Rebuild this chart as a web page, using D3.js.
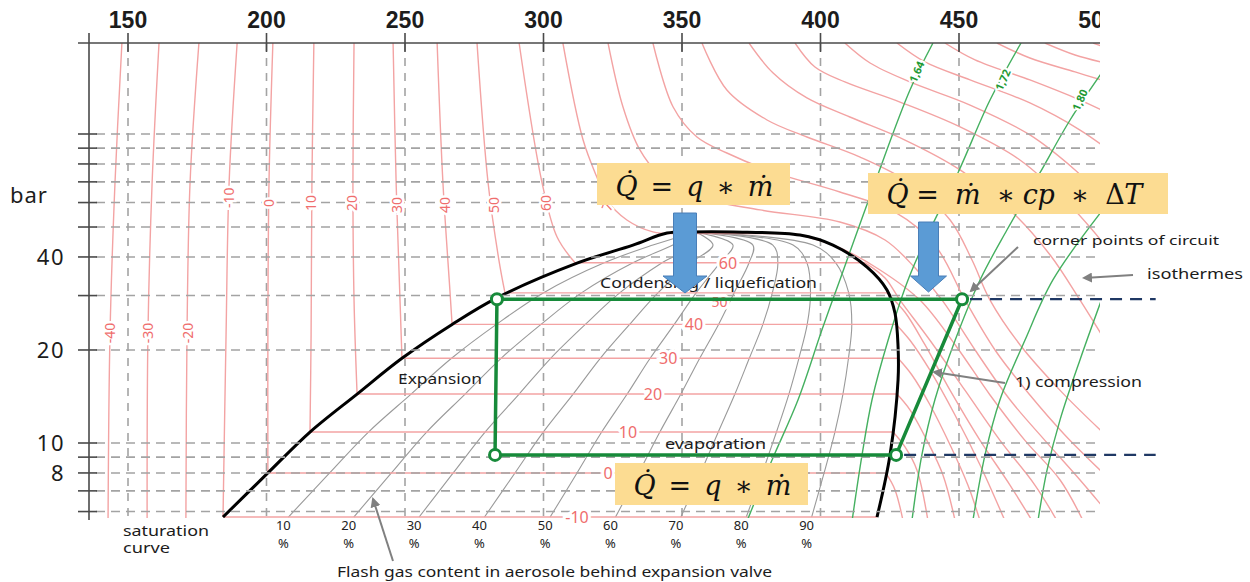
<!DOCTYPE html>
<html>
<head>
<meta charset="utf-8">
<script src="https://cdn.jsdelivr.net/npm/d3@7"></script>
<style>
  body { margin: 0; background: #fff; }
  svg { display: block; font-family: "Noto Sans", sans-serif; }
</style>
</head>
<body>
<script>
// ---- axes ----
var hTicks = [150, 200, 250, 300, 350, 400, 450, 500];
var hGrid = [150, 200, 250, 300, 350, 400, 450];
var pGrid = [6, 7, 8, 9, 10, 20, 30, 40, 50, 60, 70, 80, 90, 100];
var pTicks = [8, 10, 20, 40];

// ---- saturation curve [h kJ/kg, p bar] ----
var satLiquid = [[184.3,5.76],[200.5,8.0],[215.7,10.85],[232.7,14.4],[248.9,18.8],[267.0,24.2],[283.2,29.5],[312.1,38.2],[332.3,43.7],[344.6,47.8],[352.9,48.2]];
var satVapor = [[368.4,48.2],[392.6,47.1],[404.5,43.7],[416.8,37.1],[424.0,31.3],[426.9,26.3],[428.0,20.5],[428.0,16.0],[425.1,9.15],[420.4,5.76]];

// ---- isotherms, liquid part ----
var liquidTemps = [-40, -30, -20, -10, 0, 10, 20, 30, 40, 50, 60, 70];
var liquidLines = [
  [[147.8,197],[145.3,69.4],[143.5,22.4],[142.8,5.6]],
  [[161.2,197],[158.7,69.4],[157.2,22.4],[156.9,5.6]],
  [[175.6,197],[172.4,69.4],[171.3,22.4],[170.9,5.6]],
  [[189.4,197],[186.5,69.4],[185.4,22.4],[184.3,5.76]],
  [[202.3,197],[200.9,69.4],[200.5,22.4],[200.5,8.0]],
  [[217.1,197],[216.4,69.4],[216.1,22.4],[215.7,10.85]],
  [[231.6,197],[231.2,69.4],[231.6,29.0],[232.7,14.4]],
  [[245.7,197],[246.8,69.4],[248.2,29.0],[248.9,18.8]],
  [[261.6,197],[263.7,69.4],[266.2,31.3],[267.0,24.2]],
  [[276.0,197],[280.0,69.4],[283.9,39.1],[286.1,30.6]],
  [[291.2,197],[299.5,69.4],[304.9,46.4],[311.4,38.3]],
  [[307.0,197],[314.3,95.6],[319.7,71.0],[322.9,61.1],[330.1,52.7],[339.5,48.2],[345.7,47.6]]
];

// ---- isotherms, two-phase part ----
var boilTemps = [-10, 0, 10, 20, 30, 40, 50, 60, 70];
var boilP  = [5.76, 8.0, 10.85, 14.4, 18.8, 24.2, 30.6, 38.3, 47.6];
var boilHl = [184.3, 200.5, 215.7, 232.7, 248.9, 267.0, 286.1, 311.4, 345.7];
var boilHv = [420.4, 423.6, 426.2, 427.6, 428.0, 427.3, 424.0, 416.1, 390.8];

// ---- isotherms, vapour / supercritical part ----
var vaporTemps = [0, 10, 20, 30, 40, 50, 60, 70, 80, 90, 100, 110, 120, 130, 140, 150, 160, 170, 180];
var vaporLines = [
  [[423.6,8.0],[426.9,7.05],[429.8,5.6]],
  [[426.2,10.85],[430.5,9.71],[434.8,8.18],[438.8,5.6]],
  [[427.6,14.4],[432.3,12.8],[438.4,10.2],[444.2,7.88],[448.6,5.6]],
  [[428.0,18.8],[433.0,16.6],[439.5,13.3],[446.8,9.85],[453.2,7.31],[457.6,5.6]],
  [[427.3,24.2],[432.3,21.5],[439.5,17.2],[448.6,12.3],[457.6,8.49],[466.6,5.6]],
  [[424.0,30.6],[430.5,26.5],[437.7,20.8],[446.8,14.8],[457.6,10.2],[468.4,7.31],[476.4,5.6]],
  [[416.1,38.3],[423.3,34.2],[428.7,29.0],[439.5,21.5],[452.2,14.8],[464.8,10.2],[477.4,7.31],[485.4,5.6]],
  [[390.8,47.6],[407.0,42.8],[421.5,36.3],[435.9,29.0],[448.6,20.8],[461.2,14.3],[473.8,10.2],[486.5,7.59],[494.8,5.6]],
  [[323.3,197],[328.7,122.3],[334.8,88.8],[341.0,75.3],[356.5,62.5],[378.2,56.8],[407.0,51.9],[423.3,45.4],[434.1,36.9],[443.9,29.0],[455.8,20.0],[468.4,13.8],[481.0,10.2],[493.7,7.59],[502,6.2]],
  [[339.5,197],[346.8,122.3],[355.4,97.8],[366.2,86.8],[382.9,75.3],[407.0,64.9],[426.9,55.9],[441.3,43.7],[452.2,29.0],[463.0,20.0],[475.6,14.3],[488.3,10.6],[502,8.0]],
  [[357.2,197],[366.2,138.8],[380.7,111.0],[395.1,97.8],[414.3,84.2],[432.3,69.4],[446.8,52.7],[454.7,39.1],[461.2,29.0],[472.0,20.8],[486.5,14.8],[502,10.8]],
  [[374.2,197],[382.9,157.5],[395.1,130.8],[410.6,113.5],[430.5,95.6],[450.4,76.5],[468.4,56.8],[482.9,40.6],[493.7,29.0],[502,22.0]],
  [[390.8,197],[398.0,164.8],[408.8,147.4],[428.7,126.9],[450.4,105.4],[472.0,82.4],[488.3,61.1],[502,44.5]],
  [[408.8,197],[417.9,169.7],[432.3,147.4],[454.0,124.1],[475.6,99.3],[491.9,76.5],[502,62.5]],
  [[427.6,197],[437.7,171.1],[454.0,149.6],[475.6,126.0],[493.7,103.0],[502,91.5]],
  [[444.9,197],[455.8,173.6],[475.6,149.6],[493.7,128.8],[502,119]],
  [[463.7,197],[475.6,176.2],[491.9,158.8],[502,149]],
  [[481.0,197],[491.9,180.2],[502,170.5]],
  [[498.4,197],[502,192]]
];

// ---- vapour quality lines (flash gas content) ----
var qualityNames = [10, 20, 30, 40, 50, 60, 70, 80, 90];
var qualityP = [5.76, 8.0, 10.85, 14.4, 18.8, 24.2, 30.6, 38.3, 43.7, 48.2];
var qualityH = [
  [207.9, 222.8, 236.8, 252.2, 266.8, 283.0, 299.9, 321.9, 339.5, 355],
  [231.5, 245.1, 257.8, 271.7, 284.7, 299.1, 313.7, 332.3, 346.7, 355],
  [255.1, 267.4, 278.9, 291.2, 302.6, 315.1, 327.5, 342.8, 354.0, 355],
  [278.7, 289.7, 299.9, 310.7, 320.5, 331.1, 341.3, 353.2, 361.2, 355],
  [302.4, 312.1, 321.0, 330.2, 338.5, 347.2, 355.1, 363.7, 368.4, 355],
  [326.0, 334.4, 342.0, 349.6, 356.4, 363.2, 368.8, 374.2, 375.6, 355],
  [349.6, 356.7, 363.1, 369.1, 374.3, 379.2, 382.6, 384.6, 382.8, 355],
  [373.2, 379.0, 384.1, 388.6, 392.2, 395.2, 396.4, 395.1, 390.1, 355],
  [396.8, 401.3, 405.2, 408.1, 410.1, 411.3, 410.2, 405.5, 397.3, 355]
];

// ---- isentropes ----
var entropyNames = ["1,64", "1,72", "1,80", "1,88", "1,96"];
var entropyLines = [
  [[440.6,197],[432.3,138.8],[420.0,71.0],[407.0,33.7],[400.5,23.2],[391.9,13.8],[382.5,8.81],[373.5,5.6]],
  [[472.4,197],[461.2,128.8],[449.6,74.8],[439.5,48.9],[431.6,33.7],[424.4,21.5],[418.6,13.8],[415.0,9.15],[411.4,5.6]],
  [[502,160],[490.1,111.0],[479.2,74.8],[467.3,48.9],[457.6,33.7],[448.6,21.5],[441.3,13.8],[436.6,9.15],[433.0,5.6]],
  [[502,57],[483.9,33.7],[473.8,21.5],[464.8,13.8],[459.4,9.15],[455.0,5.6]],
  [[502,30],[493.7,18.6],[486.5,11.9],[481.8,8.18],[478.5,5.6]]
];

// ---- refrigeration circuit ----
var cycleH = [283.2, 282.5, 427.3, 451.1];
var cycleP = [29.2, 9.15, 9.15, 29.2];

// ---------------------------------------------------------------
var width = 1250, height = 582;
var plotLeft = 89, plotRight = 1100, plotTop = 43, plotBottom = 518;

var svg = d3.select("body").append("svg")
  .attr("width", width)
  .attr("height", height);

var x = d3.scaleLinear().domain([150, 500]).range([128, 1097.5]);
var y = d3.scaleLog().domain([10, 100]).range([443, 134]);

var defs = svg.append("defs");
defs.append("clipPath").attr("id", "plot").append("rect")
  .attr("x", plotLeft).attr("y", plotTop)
  .attr("width", plotRight - plotLeft).attr("height", plotBottom - plotTop);
defs.append("clipPath").attr("id", "topLabels").append("rect")
  .attr("x", 0).attr("y", 0).attr("width", plotRight).attr("height", 40);
defs.append("marker")
  .attr("id", "grey-head")
  .attr("viewBox", "0 0 10 10")
  .attr("refX", 8).attr("refY", 5)
  .attr("markerWidth", 5).attr("markerHeight", 5)
  .attr("orient", "auto")
  .append("path").attr("d", "M0,0L10,5L0,10z").attr("fill", "#808080");

var line = d3.line()
  .x(function(d) { return x(d[0]); })
  .y(function(d) { return y(d[1]); });
var smooth = d3.line()
  .x(function(d) { return x(d[0]); })
  .y(function(d) { return y(d[1]); })
  .curve(d3.curveCatmullRom.alpha(0.5));

var plot = svg.append("g").attr("clip-path", "url(#plot)");

// grid
plot.selectAll(".vgrid").data(hGrid).enter().append("line")
  .attr("x1", function(d) { return x(d); }).attr("x2", function(d) { return x(d); })
  .attr("y1", plotTop).attr("y2", plotBottom)
  .attr("stroke", "#a3a3a3").attr("stroke-width", 1.6).attr("stroke-dasharray", "8,7");

svg.selectAll(".hgrid").data(pGrid).enter().append("line")
  .attr("x1", 96).attr("x2", plotRight)
  .attr("y1", function(d) { return y(d); }).attr("y2", function(d) { return y(d); })
  .attr("stroke", "#a3a3a3").attr("stroke-width", 1.6).attr("stroke-dasharray", "9,6");

// quality lines
qualityH.forEach(function(hs) {
  var pts = hs.map(function(h, i) { return [h, qualityP[i]]; });
  plot.append("path").attr("d", smooth(pts))
    .attr("fill", "none").attr("stroke", "#9a9a9a").attr("stroke-width", 1.1);
});

// isotherms
var red = "#f3a3a3";
liquidLines.forEach(function(pts) {
  plot.append("path").attr("d", smooth(pts))
    .attr("fill", "none").attr("stroke", red).attr("stroke-width", 1.4);
});
boilTemps.forEach(function(t, i) {
  plot.append("path").attr("d", line([[boilHl[i], boilP[i]], [boilHv[i], boilP[i]]]))
    .attr("fill", "none").attr("stroke", red).attr("stroke-width", 1.4);
});
vaporLines.forEach(function(pts) {
  plot.append("path").attr("d", smooth(pts))
    .attr("fill", "none").attr("stroke", red).attr("stroke-width", 1.4);
});

// isentropes
entropyLines.forEach(function(pts) {
  plot.append("path").attr("d", smooth(pts))
    .attr("fill", "none").attr("stroke", "#45b060").attr("stroke-width", 1.4);
});

// saturation curve
plot.append("path").attr("d", smooth(satLiquid.concat(satVapor)))
  .attr("fill", "none").attr("stroke", "#000").attr("stroke-width", 3);

// isotherm labels
var redText = "#ef6d6d";
var liquidLabelAt = [[143.5,22.7],[157.2,22.7],[171.7,22.7],[186.5,62.2],[200.9,59.8],[216.1,59.8],[230.9,59.8],[247.1,58.9],[264.4,58.9],[282.1,58.9],[300.9,59.8],[323.6,59.8]];
liquidTemps.forEach(function(t, i) {
  var a = liquidLabelAt[i];
  svg.append("text")
    .attr("transform", "translate(" + x(a[0]) + "," + y(a[1]) + ") rotate(" + (t === 70 ? -68 : -90) + ")")
    .attr("text-anchor", "middle").attr("dy", "0.35em")
    .attr("font-size", 14).attr("fill", redText)
    .attr("stroke", "#fff").attr("stroke-width", 5).attr("paint-order", "stroke")
    .text(t);
});
var boilLabelH = [312.1, 323.3, 330.5, 339.5, 345.0, 354.3, 363.5, 366.6];
var boilLabelDy = [0, 0, 0, 0, 0, 0, 9, 0];
boilLabelH.forEach(function(h, i) {
  svg.append("text")
    .attr("x", x(h)).attr("y", y(boilP[i]) + boilLabelDy[i]).attr("dy", "0.36em")
    .attr("text-anchor", "middle").attr("font-size", i === 6 ? 14 : 16).attr("fill", redText)
    .attr("stroke", "#fff").attr("stroke-width", 6).attr("paint-order", "stroke")
    .text(boilTemps[i]);
});

// isentrope labels
var entropyLabelAt = [[434.8,158.8],[465.9,149.6],[493.7,128.8]];
entropyLabelAt.forEach(function(a, i) {
  svg.append("text")
    .attr("transform", "translate(" + x(a[0]) + "," + y(a[1]) + ") rotate(-66)")
    .attr("text-anchor", "middle").attr("dy", "0.35em")
    .attr("font-size", 11).attr("font-weight", "bold").attr("fill", "#1f9a35")
    .attr("stroke", "#fff").attr("stroke-width", 4).attr("paint-order", "stroke")
    .text(entropyNames[i]);
});

// axes
svg.append("line").attr("x1", 78).attr("x2", plotRight).attr("y1", plotTop).attr("y2", plotTop)
  .attr("stroke", "#4a4a4a").attr("stroke-width", 1.6);
svg.append("line").attr("x1", plotLeft).attr("x2", plotLeft).attr("y1", 33).attr("y2", 520)
  .attr("stroke", "#4a4a4a").attr("stroke-width", 1.6);
svg.selectAll(".htick").data(hTicks.slice(0, 7)).enter().append("line")
  .attr("x1", function(d) { return x(d); }).attr("x2", function(d) { return x(d); })
  .attr("y1", 33).attr("y2", 52)
  .attr("stroke", "#4a4a4a").attr("stroke-width", 1.6);
svg.selectAll(".ptick").data(pGrid).enter().append("line")
  .attr("x1", 78).attr("x2", 97)
  .attr("y1", function(d) { return y(d); }).attr("y2", function(d) { return y(d); })
  .attr("stroke", "#4a4a4a").attr("stroke-width", 1.6);

svg.append("g").attr("clip-path", "url(#topLabels)")
  .selectAll("text").data(hTicks).enter().append("text")
  .attr("x", function(d) { return x(d); }).attr("y", 28)
  .attr("text-anchor", "middle")
  .attr("font-family", "Liberation Sans, Arial, sans-serif")
  .attr("font-size", 23).attr("font-weight", "bold").attr("fill", "#1c1c1c")
  .text(function(d) { return d; });

svg.selectAll(".plabel").data(pTicks).enter().append("text")
  .attr("x", 65).attr("y", function(d) { return y(d) + 8; })
  .attr("text-anchor", "end").attr("font-size", 22).attr("fill", "#1c1c1c")
  .attr("letter-spacing", 1.5)
  .text(function(d) { return d; });
svg.append("text").attr("x", 10).attr("y", 203)
  .attr("font-size", 22).attr("fill", "#1c1c1c").attr("letter-spacing", 1)
  .text("bar");

// quality labels: number with the percent sign below
qualityNames.forEach(function(q, i) {
  var lx = x(qualityH[i][0]) - 5;
  svg.append("text").attr("x", lx).attr("y", 530)
    .attr("text-anchor", "middle").attr("font-size", 13).attr("fill", "#222").text(q);
  svg.append("text").attr("x", lx).attr("y", 548)
    .attr("text-anchor", "middle").attr("font-size", 13).attr("fill", "#222").text("%");
});

// refrigeration circuit
var cycle = cycleH.map(function(h, i) { return [h, cycleP[i]]; });
svg.append("path").attr("d", line(cycle) + "Z")
  .attr("fill", "none").attr("stroke", "#178a3a").attr("stroke-width", 3.5)
  .attr("stroke-linejoin", "round");
[cycle[3], cycle[2]].forEach(function(c) {
  svg.append("line")
    .attr("x1", x(c[0]) + 8).attr("x2", x(521))
    .attr("y1", y(c[1])).attr("y2", y(c[1]))
    .attr("stroke", "#1f3864").attr("stroke-width", 2.2).attr("stroke-dasharray", "12,8");
});
svg.selectAll(".corner").data(cycle).enter().append("circle")
  .attr("cx", function(d) { return x(d[0]); }).attr("cy", function(d) { return y(d[1]); })
  .attr("r", 5.5).attr("fill", "#fff").attr("stroke", "#178a3a").attr("stroke-width", 3);

// annotation texts
function note(txt, x0, yb, len, size) {
  svg.append("text").attr("x", x0).attr("y", yb)
    .attr("font-size", size || 13.5).attr("fill", "#1c1c1c")
    .attr("textLength", len).attr("lengthAdjust", "spacingAndGlyphs")
    .text(txt);
}
note("Condensing / liquefication", 600, 288, 217);
note("Expansion", 398, 384, 84);
note("evaporation", 665, 449, 101);
note("1) compression", 1015, 387, 127);
note("corner points of circuit", 1033, 245, 186, 13);
note("isothermes", 1147, 279, 96);
note("saturation", 123, 536, 86);
note("curve", 123, 553, 47);
note("Flash gas content in aerosole behind expansion valve", 337, 577, 435);

// grey pointer arrows
[[1018,247,971,291],[1133,275,1084,278],[1005,383,934,372],[393,561,373,499]].forEach(function(a) {
  svg.append("line").attr("x1", a[0]).attr("y1", a[1]).attr("x2", a[2]).attr("y2", a[3])
    .attr("stroke", "#808080").attr("stroke-width", 2).attr("marker-end", "url(#grey-head)");
});

// formula boxes
function formula(bx, by, bw, bh, parts, tx, ty, tlen) {
  svg.append("rect").attr("x", bx).attr("y", by).attr("width", bw).attr("height", bh)
    .attr("fill", "#fcdc92");
  var t = svg.append("text").attr("x", tx).attr("y", ty)
    .attr("font-family", "DejaVu Serif, serif").attr("font-size", 27).attr("fill", "#111")
    .attr("textLength", tlen).attr("lengthAdjust", "spacing")
    .attr("xml:space", "preserve");
  parts.forEach(function(p) {
    t.append("tspan").attr("font-style", p[1] ? "italic" : "normal").text(p[0]);
  });
}
formula(597, 163, 193, 42, [["Q\u0307", 1], ["  =  ", 0], ["q", 1], ["  \u2217  ", 0], ["\u1E41", 1]], 614, 196, 158);
formula(868, 173, 300, 41, [["Q\u0307", 1], [" =  ", 0], ["\u1E41", 1], ["  \u2217 ", 0], ["cp", 1], ["  \u2217  ", 0], ["\u0394", 0], ["T", 1]], 886, 204, 256);
formula(615, 463, 193, 42, [["Q\u0307", 1], ["  =  ", 0], ["q", 1], ["  \u2217  ", 0], ["\u1E41", 1]], 632, 495, 158);

// blue arrows
function blueArrow(cx, top, shaftW, shaftEnd, headW, tip) {
  var p = d3.path();
  p.moveTo(cx - shaftW / 2, top);
  p.lineTo(cx + shaftW / 2, top);
  p.lineTo(cx + shaftW / 2, shaftEnd);
  p.lineTo(cx + headW / 2, shaftEnd);
  p.lineTo(cx, tip);
  p.lineTo(cx - headW / 2, shaftEnd);
  p.lineTo(cx - shaftW / 2, shaftEnd);
  p.closePath();
  svg.append("path").attr("d", p.toString())
    .attr("fill", "#5b9bd5").attr("stroke", "#4a7fb8").attr("stroke-width", 1);
}
blueArrow(685, 213, 23, 276, 44, 293);
blueArrow(928.5, 222, 20, 276, 36, 292);
</script>
</body>
</html>
